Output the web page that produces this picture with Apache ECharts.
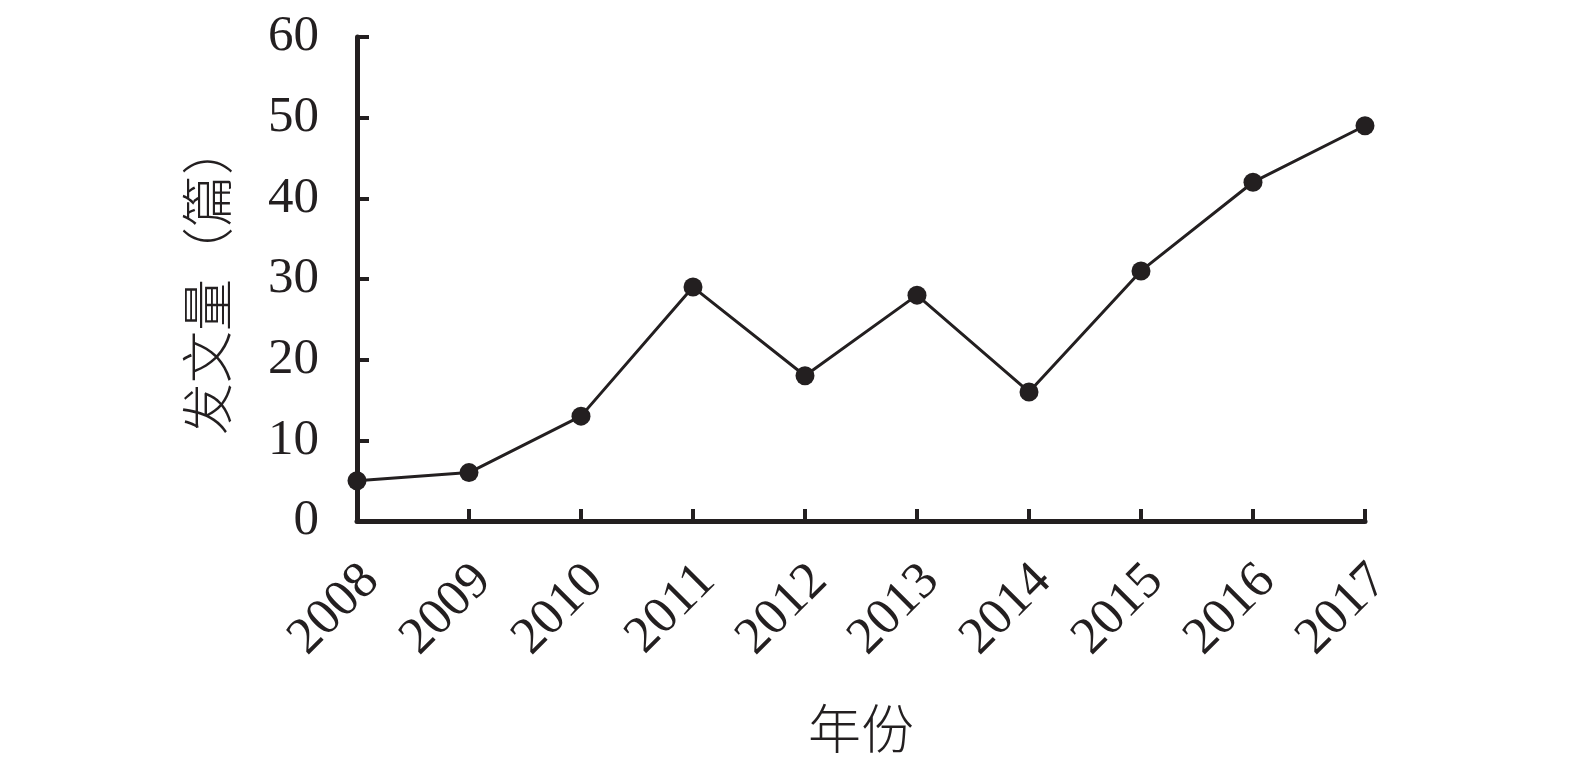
<!DOCTYPE html>
<html>
<head>
<meta charset="utf-8">
<script src="https://cdn.jsdelivr.net/npm/echarts@6/dist/echarts.min.js"></script>
<style>
html,body{margin:0;padding:0;background:#fff;}
#chart{width:1575px;height:768px;}
</style>
</head>
<body>
<div id="chart"></div>
<script>
var years = ['2008','2009','2010','2011','2012','2013','2014','2015','2016','2017'];
var counts = [5, 6, 13, 29, 18, 28, 16, 31, 42, 49];
var yName = '发文量（篇）';
var xName = '年份';

var ink = '#231f20';
var serif = '"Liberation Serif", "DejaVu Serif", "Noto Sans CJK SC", serif';
var cjk = '"Noto Sans CJK SC", serif';

var chart = echarts.init(document.getElementById('chart'));
chart.setOption({
  animation: false,
  backgroundColor: '#fff',
  grid: {left: 357, right: 210, top: 37, bottom: 247, containLabel: false},
  xAxis: {
    type: 'category',
    data: years,
    boundaryGap: false,
    name: xName,
    nameLocation: 'middle',
    nameGap: 181,
    nameTextStyle: {fontFamily: cjk, fontSize: 53, color: ink, fontWeight: 300, verticalAlign: 'top'},
    axisLine: {lineStyle: {color: ink, width: 5}},
    axisTick: {inside: true, length: 12, lineStyle: {color: ink, width: 4}, alignWithLabel: true},
    axisLabel: {rotate: 45, margin: 66, padding: [0, -20, 0, 0], fontFamily: serif, fontSize: 52, color: ink, interval: 0},
    splitLine: {show: false}
  },
  yAxis: {
    type: 'value',
    min: 0, max: 60, interval: 10,
    name: yName,
    nameLocation: 'middle',
    nameRotate: 90,
    nameGap: 150,
    nameTextStyle: {fontFamily: cjk, fontSize: 52, color: ink, fontWeight: 300, verticalAlign: 'middle'},
    axisLine: {show: true, lineStyle: {color: ink, width: 5}},
    axisTick: {show: true, inside: true, length: 12, lineStyle: {color: ink, width: 4}},
    axisLabel: {margin: 38, fontFamily: serif, fontSize: 51, color: ink},
    splitLine: {show: false}
  },
  series: [{
    type: 'line',
    data: counts,
    symbol: 'circle',
    symbolSize: 19,
    itemStyle: {color: ink},
    lineStyle: {color: ink, width: 3},
    z: 10
  }]
});
</script>
</body>
</html>
